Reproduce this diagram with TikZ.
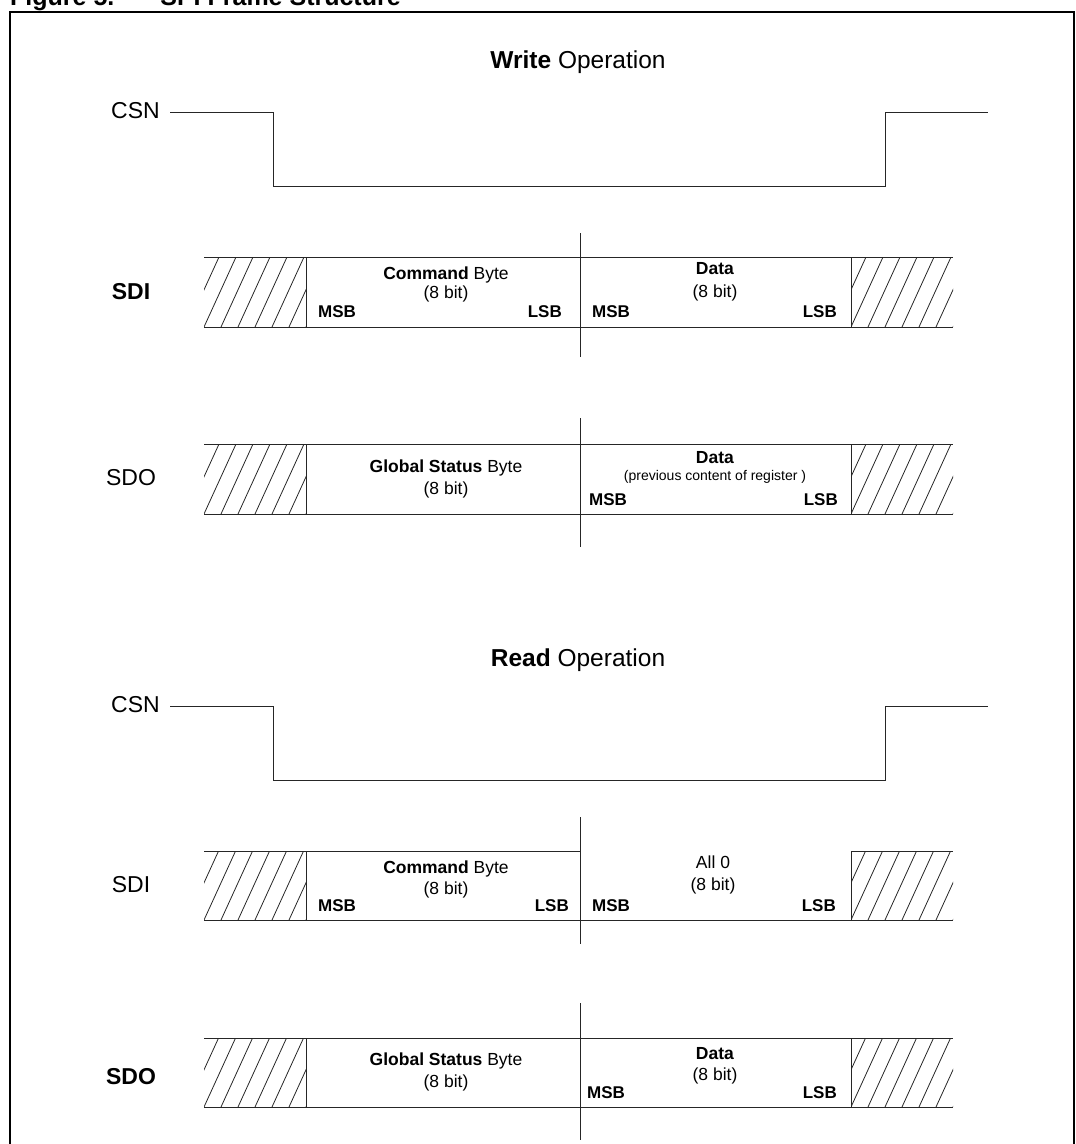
\documentclass[tikz,border=0pt]{standalone}
\usepackage{fontspec}
\setmainfont{Liberation Sans}
\usetikzlibrary{positioning}

\tikzset{
  sig/.style={
    font=\fontsize{23}{26}\selectfont,
    inner sep=0pt
  },
  sigb/.style={
    font=\fontsize{23}{26}\selectfont\bfseries,
    inner sep=0pt
  },
  optitle/.style={
    font=\fontsize{24.5}{28}\selectfont,
    inner sep=0pt
  },
  field/.style={
    font=\fontsize{17.5}{20}\selectfont,
    anchor=base,
    inner sep=0pt
  },
  note/.style={
    font=\fontsize{14}{16}\selectfont,
    anchor=base,
    inner sep=0pt
  },
  bitl/.style={
    font=\fontsize{17}{20}\selectfont\bfseries,
    anchor=base west,
    inner sep=0pt
  },
  bitr/.style={
    font=\fontsize{17}{20}\selectfont\bfseries,
    anchor=base east,
    inner sep=0pt
  },
  wave/.style={line width=0.9pt, draw=black!85},
  frame/.style={line width=2.2pt},
  hatch/.style={line width=0.8pt, draw=black!85}
}

% hatched field: x left, y top, x right, y bottom
\newcommand{\hatchbox}[4]{%
  \begin{scope}
    \clip (#1,#2) rectangle (#3,#4);
    \foreach \k in {-2,...,7}
      \draw[hatch] ({#1+17*\k},#4) -- ++(32,-70);
  \end{scope}}

\begin{document}
\begin{tikzpicture}[x=1pt, y=-1pt]
  \useasboundingbox (0,0) rectangle (1076,1144);

  \node[font=\fontsize{25}{28}\selectfont\bfseries, anchor=base west, inner sep=0pt] (title) at (10,5) {Figure 5.\hspace{46pt}SPI Frame Structure};
  \draw[frame] (10,1160) -- (10,12) -- (1074,12) -- (1074,1160);

  % write operation
  \node[optitle] (wop) at (578,62) {\textbf{Write} Operation};

  \node[sig, anchor=east] (csnw) at (160,111) {CSN};
  \draw[wave] (csnw.east) ++(10,1) -- (273,112) -- (273,186) -- (885,186) -- (885,112) -- (988,112);

  \node[sigb] (sdiw) at (131,292) {SDI};
  \hatchbox{204}{257}{306}{327}
  \hatchbox{851}{257}{953}{327}
  \draw[wave] (204,257) -- (953,257);
  \draw[wave] (204,327) -- (953,327);
  \draw[wave] (306,257) -- (306,327);
  \draw[wave] (851,257) -- (851,327);
  \draw[wave] (580,233) -- (580,357);
  \node[field] (cmdw) at (446,279) {\textbf{Command} Byte};
  \node[field] (cmdwn) at (446,298) {(8 bit)};
  \node[bitl] (msbw) at (318,317) {MSB};
  \node[bitr] (lsbw) at (562,317) {LSB};
  \node[field] (datw) at (715,274) {\textbf{Data}};
  \node[field] (datwn) at (715,297) {(8 bit)};
  \node[bitl] (msbwd) at (592,317) {MSB};
  \node[bitr] (lsbwd) at (837,317) {LSB};

  \node[sig] (sdow) at (131,478) {SDO};
  \hatchbox{204}{444}{306}{514}
  \hatchbox{851}{444}{953}{514}
  \draw[wave] (204,444) -- (953,444);
  \draw[wave] (204,514) -- (953,514);
  \draw[wave] (306,444) -- (306,514);
  \draw[wave] (851,444) -- (851,514);
  \draw[wave] (580,418) -- (580,547);
  \node[field] (gsbw) at (446,472) {\textbf{Global Status} Byte};
  \node[field] (gsbwn) at (446,494) {(8 bit)};
  \node[field] (datsw) at (715,463) {\textbf{Data}};
  \node[note] (prevw) at (715,480) {(previous content of register )};
  \node[bitl] (msbsw) at (589,505) {MSB};
  \node[bitr] (lsbsw) at (838,505) {LSB};

  % read operation
  \node[optitle] (rop) at (578,660) {\textbf{Read} Operation};

  \node[sig, anchor=east] (csnr) at (160,705) {CSN};
  \draw[wave] (csnr.east) ++(10,1) -- (273,706) -- (273,780) -- (885,780) -- (885,706) -- (988,706);

  \node[sig] (sdir) at (131,885) {SDI};
  \hatchbox{204}{851}{306}{920}
  \hatchbox{851}{851}{953}{920}
  \draw[wave] (204,851) -- (580,851);
  \draw[wave] (851,851) -- (953,851);
  \draw[wave] (204,920) -- (953,920);
  \draw[wave] (306,851) -- (306,920);
  \draw[wave] (851,851) -- (851,920);
  \draw[wave] (580,817) -- (580,944);
  \node[field] (cmdr) at (446,873) {\textbf{Command} Byte};
  \node[field] (cmdrn) at (446,894) {(8 bit)};
  \node[bitl] (msbr) at (318,911) {MSB};
  \node[bitr] (lsbr) at (569,911) {LSB};
  \node[field] (allr) at (713,868) {All 0};
  \node[field] (allrn) at (713,890) {(8 bit)};
  \node[bitl] (msbrd) at (592,911) {MSB};
  \node[bitr] (lsbrd) at (836,911) {LSB};

  \node[sigb] (sdor) at (131,1077) {SDO};
  \hatchbox{204}{1038}{306}{1107}
  \hatchbox{851}{1038}{953}{1107}
  \draw[wave] (204,1038) -- (953,1038);
  \draw[wave] (204,1107) -- (953,1107);
  \draw[wave] (306,1038) -- (306,1107);
  \draw[wave] (851,1038) -- (851,1107);
  \draw[wave] (580,1003) -- (580,1140);
  \node[field] (gsbr) at (446,1065) {\textbf{Global Status} Byte};
  \node[field] (gsbrn) at (446,1087) {(8 bit)};
  \node[field] (datr) at (715,1059) {\textbf{Data}};
  \node[field] (datrn) at (715,1080) {(8 bit)};
  \node[bitl] (msbsr) at (587,1098) {MSB};
  \node[bitr] (lsbsr) at (837,1098) {LSB};
\end{tikzpicture}
\end{document}
